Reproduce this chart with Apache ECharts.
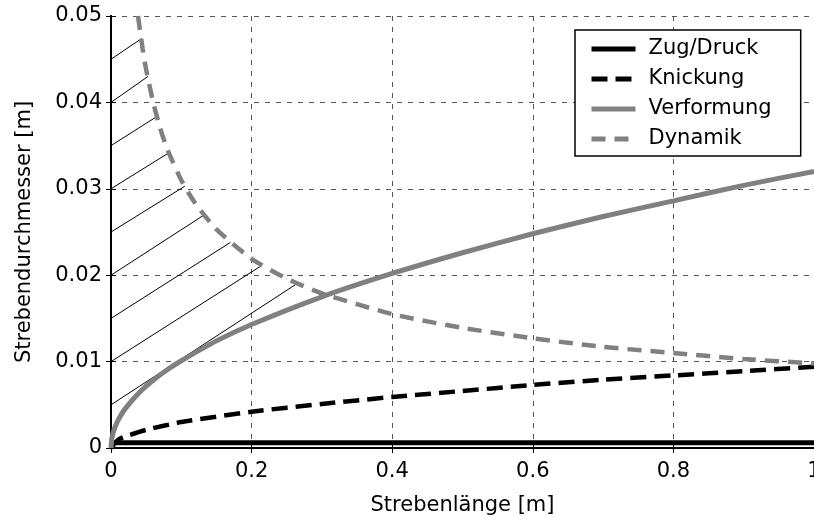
<!DOCTYPE html>
<html>
<head>
<meta charset="utf-8">
<script src="https://cdn.jsdelivr.net/npm/echarts@6/dist/echarts.min.js"></script>
<style>
  html, body { margin: 0; padding: 0; background: #fff; overflow: hidden; }
  #chart { width: 814px; height: 519px; }
</style>
</head>
<body>
<div id="chart"></div>
<script>
// values
var xTicks = [0, 0.2, 0.4, 0.6, 0.8, 1];
var yTicks = [0, 0.01, 0.02, 0.03, 0.04, 0.05];

var zugX = [0, 1];
var zugY = [0.0006, 0.0006];

var knickX = [0, 0.01, 0.02, 0.05, 0.1, 0.2, 0.3, 0.4, 0.5, 0.6, 0.7, 0.8, 0.9, 1.0];
var knickY = [0, 0.00094, 0.00133, 0.0021, 0.003, 0.0042, 0.0051, 0.0059, 0.0066, 0.0073, 0.0079, 0.0084, 0.0089, 0.0094];

var verfX = [0, 0.001, 0.002, 0.003, 0.005, 0.01, 0.02, 0.04, 0.06, 0.08, 0.1, 0.15, 0.2, 0.3, 0.4, 0.5, 0.6, 0.7, 0.8, 0.9, 1.0];
var verfY = [0, 0.001, 0.00143, 0.00175, 0.00226, 0.0032, 0.00453, 0.0064, 0.00784, 0.00905, 0.0101, 0.0124, 0.0143, 0.0175, 0.0202, 0.0226, 0.0248, 0.0268, 0.0286, 0.0304, 0.032];

var dynX = [0.0384, 0.045, 0.05, 0.06, 0.07, 0.08, 0.1, 0.12, 0.15, 0.2, 0.25, 0.3, 0.4, 0.5, 0.6, 0.7, 0.8, 0.9, 1.0];
var dynY = [0.05, 0.0462, 0.0438, 0.04, 0.037, 0.0346, 0.031, 0.0283, 0.0253, 0.0219, 0.0196, 0.0179, 0.0155, 0.0139, 0.0127, 0.0117, 0.011, 0.0103, 0.0098];

// hatching: start on the y axis, end on the Dynamik curve
var hatchStartY = [0.005, 0.01, 0.015, 0.02, 0.025, 0.03, 0.035, 0.04, 0.045];
var hatchEndX = [0.266, 0.214, 0.170, 0.133, 0.105, 0.083, 0.066, 0.0526, 0.0437];
var hatchEndY = [0.0191, 0.0211, 0.0238, 0.027, 0.0303, 0.0342, 0.0384, 0.043, 0.0474];

var names = ['Zug/Druck', 'Knickung', 'Verformung', 'Dynamik'];

function pairs(xs, ys) {
  return xs.map(function(x, i) { return [x, ys[i]]; });
}

var font = 'DejaVu Sans, Liberation Sans, Arial, sans-serif';
var fs = 21;
var chart = echarts.init(document.getElementById('chart'));

var series = [];
hatchStartY.forEach(function(y0, i) {
  series.push({
    type: 'line',
    name: 'hatch' + i,
    data: [[0, y0], [hatchEndX[i], hatchEndY[i]]],
    symbol: 'none',
    silent: true,
    lineStyle: { color: '#000', width: 1 },
    z: 1
  });
});

series.push({
  name: names[0], type: 'line', data: pairs(zugX, zugY), symbol: 'none',
  itemStyle: { color: '#000' },
  lineStyle: { color: '#000', width: 5 }, z: 3
});
series.push({
  name: names[1], type: 'line', data: pairs(knickX, knickY), symbol: 'none', smooth: 0.2,
  itemStyle: { color: '#000' },
  lineStyle: { color: '#000', width: 4.5, type: [16, 8] }, z: 3
});
series.push({
  name: names[2], type: 'line', data: pairs(verfX, verfY), symbol: 'none', smooth: 0.2,
  itemStyle: { color: '#808080' },
  lineStyle: { color: '#808080', width: 5 }, z: 3
});
series.push({
  name: names[3], type: 'line', data: pairs(dynX, dynY), symbol: 'none', smooth: 0.2,
  itemStyle: { color: '#808080' },
  lineStyle: { color: '#808080', width: 4.5, type: [14, 9] }, z: 4
});

var axisLine = { show: true, lineStyle: { color: '#000', width: 2 } };
var axisTick = { show: true, inside: true, length: 5, lineStyle: { color: '#000', width: 1 } };
var gridLine = { show: true, lineStyle: { color: '#555', width: 1, type: [5, 6] } };

var option = {
  animation: false,
  tooltip: { show: false },
  grid: { left: 111, top: 16, right: 0, bottom: 71, containLabel: false, outerBoundsMode: 'none' },
  legend: {
    data: names,
    orient: 'vertical',
    left: 575,
    top: 30,
    padding: [8, 29, 6, 14],
    itemWidth: 44,
    itemHeight: 14,
    itemGap: 8,
    borderColor: '#000',
    borderWidth: 1.5,
    borderRadius: 0,
    backgroundColor: '#fff',
    itemStyle: { opacity: 0 },
    lineStyle: { width: 5 },
    textStyle: { fontFamily: font, fontSize: fs, color: '#000', lineHeight: 22, padding: [0, 0, 0, 8] }
  },
  xAxis: [{
    type: 'value', min: 0, max: 1, interval: 0.2,
    name: 'Strebenlänge [m]', nameLocation: 'middle', nameGap: 47,
    nameTextStyle: { fontFamily: font, fontSize: fs, color: '#000' },
    axisLine: axisLine, axisTick: axisTick, splitLine: gridLine,
    axisLabel: {
      fontFamily: font, fontSize: fs, color: '#000', margin: 13,
      formatter: function(v) { return v === 0 || v === 1 ? String(v) : v.toFixed(1); }
    }
  }, {
    type: 'value', position: 'top', min: 0, max: 1, interval: 0.2,
    axisLine: axisLine, axisTick: axisTick, splitLine: { show: false },
    axisLabel: { show: false }
  }],
  yAxis: [{
    type: 'value', min: 0, max: 0.05, interval: 0.01,
    name: 'Strebendurchmesser [m]', nameLocation: 'middle', nameGap: 76,
    nameTextStyle: { fontFamily: font, fontSize: fs, color: '#000' },
    axisLine: axisLine, axisTick: axisTick, splitLine: gridLine,
    axisLabel: {
      fontFamily: font, fontSize: fs, color: '#000', margin: 9,
      formatter: function(v) { return v === 0 ? '0' : v.toFixed(2); }
    }
  }, {
    type: 'value', position: 'right', min: 0, max: 0.05, interval: 0.01,
    axisLine: axisLine, axisTick: axisTick, splitLine: { show: false },
    axisLabel: { show: false }
  }],
  series: series
};

chart.setOption(option);
</script>
</body>
</html>
